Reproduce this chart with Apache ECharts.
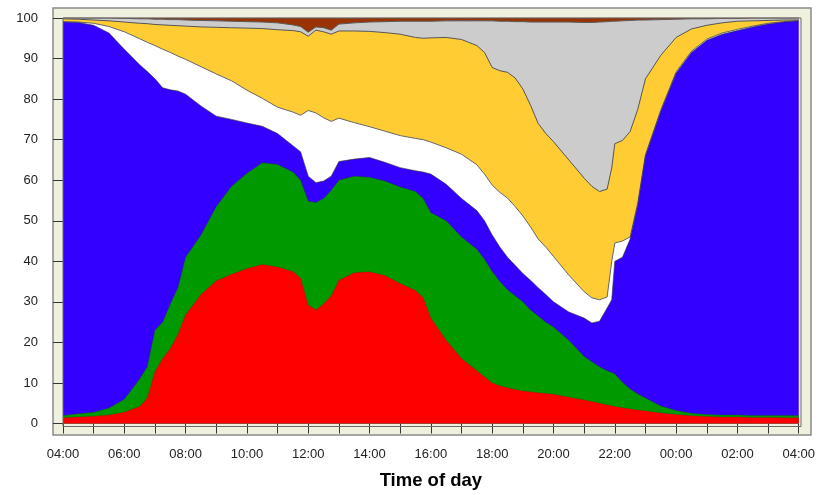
<!DOCTYPE html>
<html>
<head>
<meta charset="utf-8">
<script src="https://cdn.jsdelivr.net/npm/echarts@6/dist/echarts.min.js"></script>
<style>
html,body{margin:0;padding:0;background:#ffffff;}
#chart{width:818px;height:495px;}
</style>
</head>
<body>
<div id="chart"></div>
<script>
// Hours elapsed since 04:00 (0 = 04:00, 24 = 04:00 next day)
const hours = [0,0.5,1,1.5,2,2.5, 2.75,3,3.25,3.5,3.75,4, 4.5,5,5.5,6,6.5,7,7.5, 7.75,8,8.25,8.5,8.75,9,
  9.5,10,10.5,11,11.5,11.75,12, 12.5,13,13.5,13.75,14, 14.25,14.5,14.75,15,15.25,15.5,15.75,16,
  16.5,17,17.25,17.5,17.75,17.9,18, 18.25,18.5,18.75,19, 19.5,20,20.5,21,21.5,22, 22.5,23,23.5,24];

// Upper boundary (cumulative %) of each band, bottom to top
const redTop = [1.4,1.6,1.8,2.1,2.8,4.2, 6.3,12.8,16.0,18.5,22.0,26.8, 31.8,35.2,36.8,38.2,39.2,38.6,37.5,
  35.8,29.2,28.0,29.5,31.5,35.3, 37.2,37.4,36.5,34.5,32.8,31.0,26.0, 20.5,16.0,13.0,11.5,10.0,
  9.3,8.8,8.4,8.0,7.8,7.6,7.4,7.2, 6.5,5.8,5.4,5.0,4.6,4.4,4.2, 3.9,3.6,3.3,3.1, 2.6,2.2,1.9,1.7,1.6,1.6, 1.5,1.5,1.4,1.4];
const greenTop = [2.0,2.4,2.8,3.8,6.0,11.0, 14.0,23.0,25.0,29.5,33.5,41.0, 46.5,53.5,58.5,61.7,64.3,63.9,62.0,
  60.0,54.8,54.5,55.5,57.5,60.0, 61.0,60.7,59.8,58.3,57.2,55.5,52.0, 50.0,46.0,43.0,40.5,37.5,
  35.0,33.0,31.5,30.0,28.0,26.5,25.0,23.8, 20.5,16.5,15.2,14.0,13.0,12.6,12.2, 10.2,8.5,7.3,6.3, 4.3,3.2,2.5,2.2,2.1,2.1, 2.0,2.0,2.0,2.0];
const blueTop = [99.0,98.9,98.2,96.3,92.3,88.5, 86.8,85.0,82.8,82.3,82.0,81.2, 78.3,75.8,75.0,74.1,73.3,71.5,68.5,
  67.0,61.0,59.4,59.8,61.0,64.6, 65.2,65.6,64.4,63.1,62.3,62.0,61.5, 59.0,55.5,52.5,50.0,46.5,
  43.5,41.0,39.0,37.0,35.3,33.5,31.8,30.0, 27.5,26.0,24.8,25.2,28.5,30.5,40.0, 41.0,45.5,54.0,66.0, 77.0,86.4,91.5,94.5,96.0,96.9, 97.8,98.5,99.0,99.3];
const whiteTop = [99.1,99.0,98.7,97.9,96.6,94.9, 94.0,93.2,92.3,91.5,90.6,89.8, 88.0,86.2,84.5,82.2,80.2,78.0,76.8,
  76.0,77.2,76.6,75.4,74.5,75.3, 74.2,73.2,72.1,71.0,70.3,70.0,69.4, 68.0,66.4,63.8,61.5,58.8,
  57.0,55.6,53.5,51.2,48.5,45.5,43.5,41.2, 36.6,32.5,31.0,30.5,31.2,40.0,44.5, 45.0,46.0,54.4,66.3, 77.3,86.7,91.8,94.8,96.3,97.2, 98.0,98.7,99.1,99.4];
const yellowTop = [99.8,99.7,99.5,99.3,99.0,98.7, 98.6,98.4,98.3,98.2,98.1,98.0, 97.8,97.7,97.6,97.5,97.4,97.1,96.9,
  96.6,95.5,97.0,96.6,96.0,96.8, 96.8,96.7,96.4,96.0,95.2,95.0,95.1, 95.2,94.7,93.2,91.5,87.8,
  87.0,86.6,85.2,82.5,78.5,74.0,71.5,69.5, 65.0,60.5,58.5,57.2,57.8,63.0,69.0, 69.8,72.0,77.5,85.0, 90.8,95.2,97.3,98.2,98.8,99.2, 99.3,99.4,99.5,99.5];
const grayTop = [100,100,100,100,99.9,99.8, 99.8,99.7,99.7,99.6,99.6,99.5, 99.4,99.3,99.2,99.1,99.0,98.8,98.3,
  97.9,96.5,97.8,97.6,97.0,98.5, 98.8,99.0,99.1,99.2,99.2,99.2,99.2, 99.3,99.3,99.3,99.3,99.3,
  99.2,99.2,99.1,99.1,99.0,99.0,99.0,99.0, 99.0,98.9,98.9,99.0,99.1,99.2,99.2, 99.3,99.4,99.5,99.5, 99.6,99.7,99.8,99.8,99.9,99.9, 100,100,100,100];
const brownTop = [100,100,100,100,100,100, 100,100,100,100,100,100, 100,100,100,100,100,100,100,
  100,100,100,100,100,100, 100,100,100,100,100,100,100, 100,100,100,100,100,
  100,100,100,100,100,100,100,100, 100,100,100,100,100,100,100, 100,100,100,100, 100,100,100,100,100,100, 100,100,100,100];

const thresholdLevel = 12.6;
const thresholdFrom = -0.23;   // reference line starts a little left of 04:00
const startHour = 4;
const yTicks = [0,10,20,30,40,50,60,70,80,90,100];

const chart = echarts.init(document.getElementById('chart'), null, {renderer: 'canvas'});

function pairs(arr){ return hours.map((h,i)=>[h, arr[i]]); }

const layers = [
  {name:'brown',  data: brownTop,  fill:'#993300', line:'#6a2a10', lw:0.8, lo:1},
  {name:'gray',   data: grayTop,   fill:'#cccccc', line:'#5a5a5a', lw:1,   lo:1},
  {name:'yellow', data: yellowTop, fill:'#ffcc33', line:'#555555', lw:1,   lo:1},
  {name:'white',  data: whiteTop,  fill:'#ffffff', line:'#666666', lw:1,   lo:1},
  {name:'blue',   data: blueTop,   fill:'#3300ff', line:'#333333', lw:1,   lo:0.6},
  {name:'green',  data: greenTop,  fill:'#009900', line:'#224422', lw:0.8, lo:0.5},
  {name:'red',    data: redTop,    fill:'#ff0000', line:'#662222', lw:0.8, lo:0.4}
];

const series = layers.map((L, idx) => {
  const s = {
    name: L.name,
    type: 'line',
    data: pairs(L.data),
    symbol: 'none',
    showSymbol: false,
    smooth: false,
    lineStyle: {color: L.line, width: L.lw, opacity: L.lo},
    areaStyle: {color: L.fill, opacity: 1, origin: 'start'},
    z: 2 + idx,
    silent: true,
    animation: false
  };
  if (L.name === 'red') {
    s.markLine = {
      silent: true,
      symbol: ['none','none'],
      label: {show: false},
      lineStyle: {color: '#000000', width: 2, type: 'solid'},
      data: [[{coord: [thresholdFrom, thresholdLevel]}, {coord: [24, thresholdLevel]}]],
      animation: false
    };
  }
  return s;
});

const option = {
  animation: false,
  backgroundColor: '#ffffff',
  grid: {left: 63, right: 17, top: 18, bottom: 68.5, containLabel: false},
  xAxis: {
    type: 'value',
    min: 0, max: 24, interval: 1,
    offset: 8.5,
    axisLine: {show: false},
    axisTick: {show: true, length: 10, lineStyle: {color: '#333333', width: 1}},
    splitLine: {show: false},
    axisLabel: {
      margin: 16,
      fontFamily: 'Liberation Sans',
      fontSize: 13,
      color: '#222222',
      formatter: function(v){
        if (v % 2 !== 0) return '';
        const hh = (startHour + v) % 24;
        return (hh < 10 ? '0' : '') + hh + ':00';
      }
    },
    name: 'Time of day',
    nameLocation: 'middle',
    nameGap: 39,
    nameTextStyle: {fontFamily: 'Liberation Sans', fontSize: 18.5, fontWeight: 'bold', color: '#000000'}
  },
  yAxis: {
    type: 'value',
    min: yTicks[0], max: yTicks[yTicks.length-1], interval: 10,
    offset: 10,
    axisLine: {show: false},
    axisTick: {show: true, length: 10, lineStyle: {color: '#333333', width: 1}},
    splitLine: {show: false},
    axisLabel: {margin: 15, fontFamily: 'Liberation Sans', fontSize: 13, color: '#222222'}
  },
  graphic: [
    {type: 'rect', z: -10, silent: true,
     shape: {x: 53, y: 8, width: 758, height: 427},
     style: {fill: '#f0f0de', stroke: '#8a8a8a', lineWidth: 1.5}},
    {type: 'rect', z: 100, silent: true,
     shape: {x: 63, y: 18, width: 738, height: 408.5},
     style: {fill: 'none', stroke: '#6a6a6a', lineWidth: 1}}
  ],
  series: series
};

chart.setOption(option);
</script>
</body>
</html>
